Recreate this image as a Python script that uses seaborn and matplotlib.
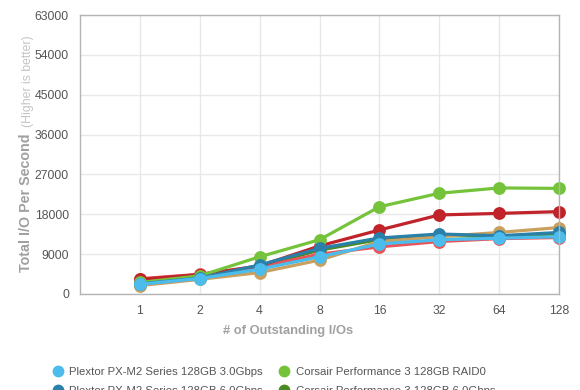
import matplotlib
matplotlib.use("Agg")
import matplotlib.pyplot as plt
from matplotlib.lines import Line2D
import pandas as pd
import seaborn as sns

# outstanding I/O queue depths (categorical x axis)
queue_depths = ["1", "2", "4", "8", "16", "32", "64", "128"]

plextor_30 = [2200, 3500, 5600, 8400, 11300, 12250, 12600, 12950]
plextor_60 = [2300, 3600, 6550, 10300, 12650, 13550, 13150, 13900]
corsair_raid0 = [2600, 4100, 8400, 12250, 19700, 22750, 23950, 23850]
corsair_60 = [2250, 3550, 6300, 9900, 12300, 13200, 13000, 13600]
red_drive = [3450, 4450, 6100, 9000, 10650, 11850, 12500, 12750]
darkred_drive = [3300, 4400, 6350, 10850, 14450, 17850, 18200, 18600]
tan_drive = [1900, 3300, 4850, 7650, 11850, 12950, 13900, 15000]

series_names = [
    "Plextor PX-M2 Series 128GB 3.0Gbps",
    "Corsair Performance 3 128GB RAID0",
    "Plextor PX-M2 Series 128GB 6.0Gbps",
    "Corsair Performance 3 128GB 6.0Gbps",
    "Crucial m4 128GB 3.0Gbps",
    "Crucial m4 128GB RAID0",
    "Samsung 830 128GB 6.0Gbps",
]
series_values = [plextor_30, corsair_raid0, plextor_60, corsair_60,
                 red_drive, darkred_drive, tan_drive]
colors = ["#4bbcec", "#74c33b", "#2a80a8", "#4a8a1e",
          "#ea5458", "#c0232a", "#c9a05e"]

rows = []
for name, vals in zip(series_names, series_values):
    for q, v in zip(queue_depths, vals):
        rows.append({"qd": q, "iops": v, "drive": name})
df = pd.DataFrame(rows)

palette = dict(zip(series_names, colors))
# drawing order, bottom to top
draw_order = [series_names[i] for i in (3, 6, 4, 5, 1, 2, 0)]

sns.set_theme(style="white")
plt.rcParams["font.family"] = ["Liberation Sans", "DejaVu Sans"]

fig = plt.figure(figsize=(5.8, 3.9), dpi=100)
ax = fig.add_axes([80 / 580, 1 - 294 / 390, 479 / 580, 279 / 390])

sns.pointplot(data=df, x="qd", y="iops", hue="drive", order=queue_depths,
              hue_order=draw_order, palette=palette, markers="o",
              linestyles="-", dodge=False, markersize=7.5, linewidth=2.3,
              errorbar=None, legend=False, ax=ax)
for ln in ax.lines:
    ln.set_clip_on(False)

ax.set_xlim(-1, 7)
ax.set_ylim(0, 63000)
ax.set_yticks(range(0, 63001, 9000))
ax.grid(True, color="#e8e8e8", linewidth=1)
ax.set_axisbelow(True)
for s in ax.spines.values():
    s.set_color("#b4b4b4")
    s.set_linewidth(1)
ax.tick_params(length=0, labelsize=8.8, labelcolor="#555555", pad=8)
ax.set_xlabel("")
ax.set_ylabel("")

fig.text(288 / 580, 1 - 331 / 390, "# of Outstanding I/Os", ha="center",
         va="center", fontsize=9.3, fontweight="bold", color="#a0a0a0")
fig.text(26 / 580, 1 - 272 / 390, "Total I/O Per Second", rotation=90,
         ha="center", va="bottom", fontsize=10.3, fontweight="bold",
         color="#a0a0a0")
fig.text(28 / 580, 1 - 127 / 390, "(Higher is better)", rotation=90,
         ha="center", va="bottom", fontsize=8.8, color="#c4c4c4")

# legend (two columns, matplotlib fills columns first)
leg_idx = [0, 2, 4, 6, 1, 3, 5]
handles = [Line2D([], [], marker="o", linestyle="none", markersize=7.5,
                  color=colors[i]) for i in leg_idx]
labels = [series_names[i] for i in leg_idx]
fig.legend(handles, labels, ncol=2, loc="upper left",
           bbox_to_anchor=(44 / 580, 1 - 359 / 390), frameon=False,
           fontsize=8.2, labelcolor="#555555", handletextpad=0.5,
           columnspacing=1.4, labelspacing=0.75, handlelength=1.0,
           borderpad=0.2)

fig.savefig("out.png", dpi=100, facecolor="white")
